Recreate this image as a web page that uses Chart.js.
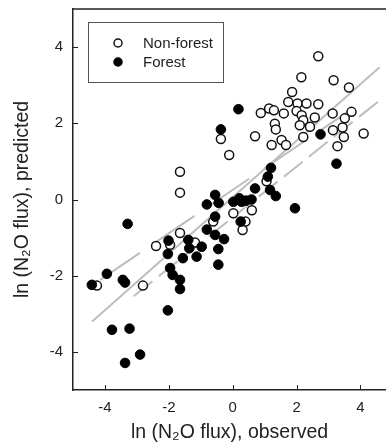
<!DOCTYPE html>
<html>
<head>
<meta charset="utf-8">
<script src="https://cdn.jsdelivr.net/npm/chart.js@4.4.1/dist/chart.umd.min.js"></script>
<style>
  html, body { margin: 0; padding: 0; background: #fff; }
  #wrap { width: 386px; height: 446px; }
</style>
</head>
<body>
<div id="wrap"><canvas id="fluxChart"></canvas></div>
<script>
// ln(N2O flux): observed (x) vs predicted (y)
const nonForestObs = [2.68, 2.15, 3.16, 3.64, 1.86, 1.74, 2.03, 2.31, 2.68, 0.88, 1.14, 1.29, 1.60, 2.00, 2.16, 2.21, 2.57, 3.13, 3.72, 3.51, 1.32, 1.35, 2.10, 2.42, 3.14, 3.44, 3.48, 4.10, 0.70, -0.37, 2.21, 1.22, 1.53, 1.67, 3.28, -0.11, -1.65, -1.65, 1.06, -1.65, -2.40, -1.96, -1.18, -0.61, 0.02, 0.40, 0.60, 0.31, -4.25, -2.81];
const nonForestPred = [3.76, 3.21, 3.13, 2.94, 2.82, 2.56, 2.52, 2.52, 2.50, 2.27, 2.39, 2.34, 2.26, 2.32, 2.21, 2.08, 2.15, 2.26, 2.30, 2.13, 1.99, 1.84, 1.95, 1.91, 1.82, 1.89, 1.64, 1.73, 1.66, 1.59, 1.64, 1.43, 1.56, 1.43, 1.40, 1.17, 0.73, 0.18, 0.48, -0.88, -1.22, -1.19, -1.13, -0.58, -0.36, -0.58, -0.28, -0.80, -2.26, -2.26];

const forestObs = [0.18, -0.37, 2.75, 3.25, 1.20, 1.10, 0.70, 1.17, 1.35, 1.95, -0.55, -0.44, -0.81, 0.02, 0.21, 0.28, 0.42, 0.59, -0.55, 0.25, -0.81, -0.55, -0.27, -0.45, -0.45, -0.97, -1.13, -1.39, -1.36, -1.56, -2.01, -2.03, -1.96, -1.88, -1.65, -1.65, -2.03, -3.29, -3.94, -3.44, -3.37, -4.41, -3.78, -3.23, -2.90, -3.37];
const forestPred = [2.37, 1.84, 1.71, 0.94, 0.83, 0.60, 0.29, 0.25, 0.09, -0.23, 0.12, -0.09, -0.13, -0.06, 0.03, -0.06, -0.03, 0.00, -0.45, -0.58, -0.79, -0.93, -1.04, -1.30, -1.71, -1.24, -1.50, -1.06, -1.28, -1.54, -1.08, -1.43, -1.80, -1.98, -2.11, -2.35, -2.91, -0.64, -1.95, -2.11, -2.18, -2.24, -3.42, -3.39, -4.07, -4.29];

// fitted lines, given by their two end points
const solidLineObs = [-4.4, 4.6];
const solidLinePred = [-3.2, 3.47];
const longDashObs = [-4.15, 3.6];
const longDashPred = [-2.11, 2.3];
const shortDashObs = [-3.1, 4.6];
const shortDashPred = [-2.54, 2.6];

const xTicks = [-4, -2, 0, 2, 4];
const yTicks = [-4, -2, 0, 2, 4];

const toPoints = (xs, ys) => xs.map((x, i) => ({ x: x, y: ys[i] }));

const FONT = "'Liberation Sans', Arial, Helvetica, sans-serif";
const INK = "#222";
const LINE_GREY = "#bdbdbd";

// top edge of the frame
const framePlugin = {
    id: "frame",
    afterDraw(chart) {
        const { ctx, chartArea } = chart;
        ctx.save();
        ctx.strokeStyle = INK;
        ctx.lineWidth = 1.5;
        ctx.beginPath();
        ctx.moveTo(chartArea.left, chartArea.top);
        ctx.lineTo(chartArea.right, chartArea.top);
        ctx.stroke();
        ctx.restore();
    },
};

// tick marks pointing into the plot
const inwardTicks = {
    id: "inwardTicks",
    afterDraw(chart) {
        const { ctx, chartArea, scales } = chart;
        ctx.save();
        ctx.strokeStyle = INK;
        ctx.lineWidth = 1;
        ctx.beginPath();
        xTicks.forEach((v) => {
            const px = Math.round(scales.x.getPixelForValue(v)) + 0.5;
            ctx.moveTo(px, chartArea.bottom);
            ctx.lineTo(px, chartArea.bottom - 5);
        });
        yTicks.forEach((v) => {
            const py = Math.round(scales.y.getPixelForValue(v)) + 0.5;
            ctx.moveTo(chartArea.left, py);
            ctx.lineTo(chartArea.left + 5, py);
        });
        ctx.stroke();
        ctx.restore();
    },
};

// boxed legend in the upper left corner
const boxLegend = {
    id: "boxLegend",
    afterDraw(chart) {
        const { ctx, chartArea } = chart;
        const x0 = chartArea.left + 15;
        const y0 = chartArea.top + 13;
        ctx.save();
        ctx.strokeStyle = "#555";
        ctx.lineWidth = 1;
        ctx.strokeRect(x0 + 0.5, y0 + 0.5, 135, 60);
        const entries = chart.data.datasets.filter((d) => d.inLegend);
        entries.forEach((d, i) => {
            const cy = y0 + 21 + i * 19;
            ctx.beginPath();
            ctx.arc(x0 + 30, cy, 4, 0, Math.PI * 2);
            ctx.fillStyle = d.backgroundColor;
            ctx.fill();
            ctx.lineWidth = 1.5;
            ctx.strokeStyle = d.borderColor;
            ctx.stroke();
            ctx.fillStyle = INK;
            ctx.font = "15px " + FONT;
            ctx.textBaseline = "middle";
            ctx.fillText(d.label, x0 + 55, cy + 1);
        });
        ctx.restore();
    },
};

const ctx = document.getElementById("fluxChart").getContext("2d");
const fluxChart = new Chart(ctx, {
    type: "scatter",
    data: {
        datasets: [
            {
                label: "Non-forest",
                inLegend: true,
                data: toPoints(nonForestObs, nonForestPred),
                backgroundColor: "#fff",
                borderColor: "#111",
                borderWidth: 1.5,
                pointRadius: 4.5,
                order: 1,
            },
            {
                label: "Forest",
                inLegend: true,
                data: toPoints(forestObs, forestPred),
                backgroundColor: "#000",
                borderColor: "#000",
                borderWidth: 1,
                pointRadius: 4.8,
                order: 0,
            },
            {
                type: "line",
                label: "fit 1",
                data: toPoints(solidLineObs, solidLinePred),
                borderColor: LINE_GREY,
                borderWidth: 2,
                pointRadius: 0,
                order: 5,
            },
            {
                type: "line",
                label: "fit 2",
                data: toPoints(longDashObs, longDashPred),
                borderColor: LINE_GREY,
                borderWidth: 2,
                borderDash: [48, 18],
                pointRadius: 0,
                order: 5,
            },
            {
                type: "line",
                label: "fit 3",
                data: toPoints(shortDashObs, shortDashPred),
                borderColor: LINE_GREY,
                borderWidth: 2,
                borderDash: [24, 8],
                pointRadius: 0,
                order: 5,
            },
        ],
    },
    options: {
        responsive: true,
        maintainAspectRatio: false,
        animation: false,
        layout: { autoPadding: false, padding: { top: 9, right: 0, left: 0, bottom: 0 } },
        plugins: {
            legend: { display: false },
            tooltip: { enabled: false },
        },
        scales: {
            x: {
                type: "linear",
                min: -5,
                max: 4.8,
                afterBuildTicks: (scale) => {
                    scale.ticks = xTicks.map((v) => ({ value: v }));
                },
                afterFit: (scale) => {
                    scale.height = 56;
                    scale.paddingLeft = 0;
                    scale.paddingRight = 0;
                },
                grid: { display: false, drawTicks: false },
                border: { display: true, color: INK, width: 1.5 },
                ticks: {
                    color: INK,
                    padding: 9,
                    maxRotation: 0,
                    font: { family: FONT, size: 15 },
                },
                title: {
                    display: true,
                    text: "ln (N\u2082O flux), observed",
                    color: INK,
                    padding: { top: 0, bottom: 2 },
                    font: { family: FONT, size: 19.5 },
                },
            },
            y: {
                type: "linear",
                min: -5,
                max: 5,
                afterBuildTicks: (scale) => {
                    scale.ticks = yTicks.map((v) => ({ value: v }));
                },
                afterFit: (scale) => {
                    scale.width = 73;
                    scale.paddingTop = 0;
                    scale.paddingBottom = 0;
                },
                grid: { display: false, drawTicks: false },
                border: { display: true, color: INK, width: 1.5 },
                ticks: {
                    color: INK,
                    padding: 10,
                    font: { family: FONT, size: 15 },
                },
                title: {
                    display: true,
                    text: "ln (N\u2082O flux), predicted",
                    color: INK,
                    padding: { top: 11, bottom: 0 },
                    font: { family: FONT, size: 19.5 },
                },
            },
        },
    },
    plugins: [framePlugin, inwardTicks, boxLegend],
});
</script>
</body>
</html>
